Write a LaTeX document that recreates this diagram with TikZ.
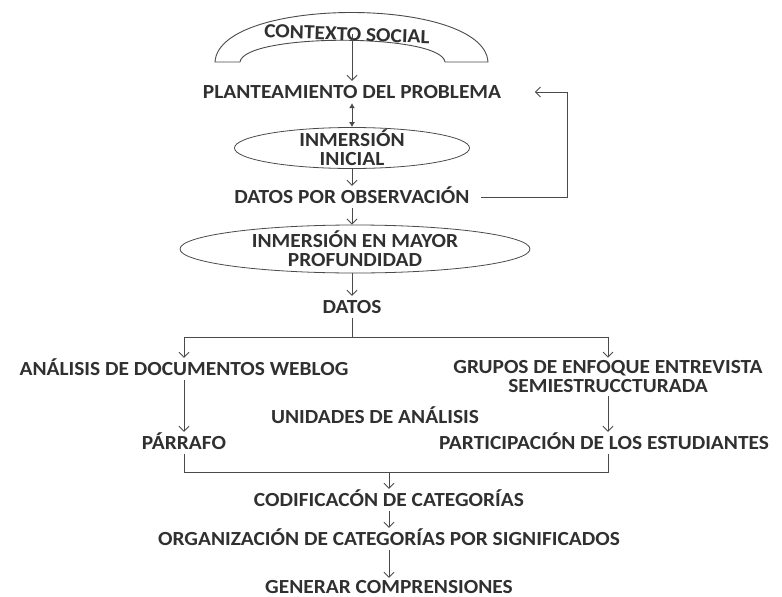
\documentclass[tikz,border=0pt]{standalone}
\usepackage{fontspec}
\setmainfont{Carlito}[FakeStretch=1.07]
\usetikzlibrary{calc,shapes.geometric,arrows.meta}

\definecolor{linegray}{HTML}{4A4A4A}
\definecolor{inkgray}{HTML}{303030}

\tikzset{
  lbl/.style={inner sep=4.5pt, text height=13pt, text depth=0pt, text=inkgray,
    font=\fontsize{20}{19}\selectfont\bfseries},
  lbltwo/.style={inner sep=3pt, align=center, text=inkgray,
    font=\fontsize{20}{19}\selectfont\bfseries},
  oval/.style={ellipse, draw=linegray, line width=0.8pt, inner xsep=0pt,
    inner ysep=-5pt, align=center, text=inkgray,
    font=\fontsize{20}{19}\selectfont\bfseries},
  conn/.style={draw=linegray, line width=0.9pt},
  arr/.style={conn, -{Straight Barb[length=5pt,width=10pt]}},
  dbl/.style={conn, {Latex[length=5pt,width=6pt]}-{Latex[length=5pt,width=6pt]}},
}

\begin{document}
\begin{tikzpicture}[x=1pt, y=-1pt]
  \useasboundingbox (0,0) rectangle (782,597);

  % Arch
  \draw[conn] (215,62) .. controls (219,-4) and (484,-4) .. (488,62)
    -- (445,62) .. controls (441,33) and (244,33) .. (240,62) -- cycle;
  \node[lbl, rotate=-2] (ctx) at (347,34) {CONTEXTO SOCIAL};

  % Main column
  \node[lbl] (plan) at (352,92) {PLANTEAMIENTO DEL PROBLEMA};
  \node[oval, minimum width=235, minimum height=41] (ini) at (352,148) {INMERSIÓN\\INICIAL};
  \node[lbl] (obs) at (352,197) {DATOS POR OBSERVACIÓN};
  \node[oval, minimum width=350, minimum height=48] (prof) at (355,249) {INMERSIÓN EN MAYOR\\PROFUNDIDAD};
  \node[lbl] (datos) at (352,307) {DATOS};

  % Branches
  \node[lbl] (ana) at (184,369) {ANÁLISIS DE DOCUMENTOS WEBLOG};
  \node[lbltwo] (gru) at (608,377) {GRUPOS DE ENFOQUE ENTREVISTA\\SEMIESTRUCCTURADA};
  \node[lbl] (unid) at (375,417) {UNIDADES DE ANÁLISIS};
  \node[lbl] (par) at (184,443) {PÁRRAFO};
  \node[lbl] (part) at (604,443) {PARTICIPACIÓN DE LOS ESTUDIANTES};

  % Lower column
  \node[lbl] (cod) at (389,500) {CODIFICACÓN DE CATEGORÍAS};
  \node[lbl] (org) at (389,539) {ORGANIZACIÓN DE CATEGORÍAS POR SIGNIFICADOS};
  \node[lbl] (gen) at (389,587) {GENERAR COMPRENSIONES};

  % Fork, join and loop
  \coordinate (fork) at (352,337);
  \coordinate (join) at (389,472);
  \coordinate (loop) at (567,197);

  % Connectors
  \draw[arr] (ctx.center -| plan.north) -- (plan.north);
  \draw[dbl] (plan.south) -- (ini.north);
  \draw[arr] (ini.south) -- (obs.north);
  \draw[arr] (obs.south) -- (obs.south |- prof.north);
  \draw[arr] (prof.south -| datos) -- (datos.north);
  \draw[conn] (datos.south) -- (fork);
  \draw[arr] (fork) -| (ana.north);
  \draw[arr] (fork) -| (gru.north);
  \draw[arr] (ana.south) -- (par.north);
  \draw[arr] (gru.south) -- (gru.south |- part.north);
  \draw[conn] (par.south) |- (join);
  \draw[conn] (part.south -| gru.south) |- (join);
  \draw[arr] (join) -- (cod.north);
  \draw[arr] (cod.south) -- (org.north);
  \draw[arr, shorten >=-2pt] (org.south) -- (gen.north);

  % Feedback
  \draw[arr, shorten <=7pt, shorten >=29pt] (obs.east) -- (loop) |- (plan.east);

\end{tikzpicture}
\end{document}
